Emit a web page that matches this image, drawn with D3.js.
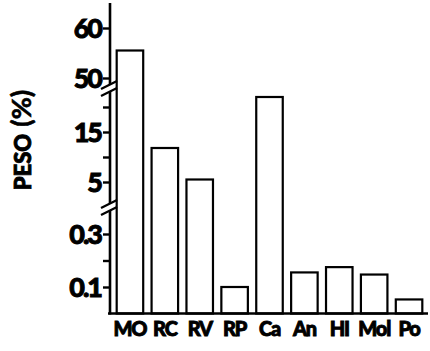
<!DOCTYPE html>
<html><head><meta charset="utf-8">
<script src="https://cdn.jsdelivr.net/npm/d3@7"></script>
<style>
html,body{margin:0;padding:0;background:#fff;}
svg{display:block;}
text{font-family:Lato,"Liberation Sans",Arial,sans-serif;font-weight:900;fill:#000;stroke:#000;stroke-width:0.9px;}
</style></head>
<body>
<svg id="chart" width="430" height="351"></svg>
<script>
const categories = ["MO","RC","RV","RP","Ca","An","HI","Mol","Po"];
const values = [55.5, 11.8, 5.5, 0.1, 22, 0.155, 0.175, 0.147, 0.053];
const tickValues = [0.1, 0.2, 0.3, 5, 10, 15, 20, 50, 60];
const tickLabels = {"0.1":"0.1","0.3":"0.3","5":"5","15":"15","50":"50","60":"60"};
const yTitleMain = "PESO";
const yTitleUnit = "(%)";

const svg = d3.select("#chart");
const axisX = 110, baseY = 313.5;

// Broken axis: three linear segments
const segLow = d3.scaleLinear().domain([0, 0.4]).range([baseY, 207.5]);
const segMid = d3.scaleLinear().domain([0, 22.5]).range([207, 94.5]);
const segTop = d3.scaleLinear().domain([48, 65]).range([88, 3]);
const y = v => v <= 0.4 ? segLow(v) : (v <= 23 ? segMid(v) : segTop(v));

const x = d3.scaleBand().domain(categories).range([112.5, 426.5])
  .paddingInner(0.24).paddingOuter(0.12);

// bars
svg.append("g").selectAll("rect").data(categories).join("rect")
  .attr("x", d => x(d))
  .attr("width", x.bandwidth())
  .attr("y", (d,i) => y(values[i]))
  .attr("height", (d,i) => baseY - y(values[i]))
  .attr("fill", "#fff").attr("stroke", "#000").attr("stroke-width", 2.2);

// y axis line
svg.append("line").attr("x1", axisX).attr("x2", axisX).attr("y1", 3).attr("y2", baseY + 1)
  .attr("stroke", "#000").attr("stroke-width", 2.6);

// ticks and labels via axes on each segment
function segAxis(scale, vals) {
  const g = svg.append("g").attr("transform", `translate(${axisX},0)`)
    .call(d3.axisLeft(scale).tickValues(vals).tickSize(7).tickPadding(3)
      .tickFormat(v => tickLabels[String(v)] || ""));
  g.select(".domain").remove();
  g.selectAll(".tick line").attr("stroke", "#000").attr("stroke-width", 2.4);
  g.selectAll(".tick text").attr("font-size", 27).attr("letter-spacing", -2)
    .attr("dy", "0.36em").attr("x", -9);
}
segAxis(segLow, tickValues.filter(v => v <= 0.4));
segAxis(segMid, tickValues.filter(v => v > 0.4 && v <= 23));
segAxis(segTop, tickValues.filter(v => v > 23));

// axis break marks
function breakMark(yc) {
  const g = svg.append("g");
  g.append("polygon")
    .attr("points", `${axisX-4},${yc+1} ${axisX+4},${yc-3} ${axisX+4},${yc+4} ${axisX-4},${yc+8}`)
    .attr("fill", "#fff");
  [0, 7].forEach(o => {
    g.append("line").attr("x1", axisX - 9).attr("y1", yc + 4 + o)
      .attr("x2", axisX + 7).attr("y2", yc - 4 + o)
      .attr("stroke", "#000").attr("stroke-width", 2.2);
  });
}
breakMark(85);
breakMark(204);

// x baseline
svg.append("line").attr("x1", 108).attr("x2", 428).attr("y1", baseY).attr("y2", baseY)
  .attr("stroke", "#000").attr("stroke-width", 2.6);

// x labels
const gx = svg.append("g").attr("transform", `translate(0,${baseY})`)
  .call(d3.axisBottom(x).tickSize(0).tickPadding(8));
gx.select(".domain").remove();
gx.selectAll(".tick text").attr("font-size", 20).attr("letter-spacing", -1.2)
  .attr("dy", "0.71em");

// y title
const t = svg.append("text")
  .attr("transform", "translate(31,140) rotate(-90)")
  .attr("text-anchor", "middle");
t.append("tspan").attr("font-size", 22).text(yTitleMain);
t.append("tspan").attr("font-size", 27).attr("font-weight", 700).attr("stroke-width", 0.6).attr("dx", 7).text(yTitleUnit);
</script>
</body></html>
